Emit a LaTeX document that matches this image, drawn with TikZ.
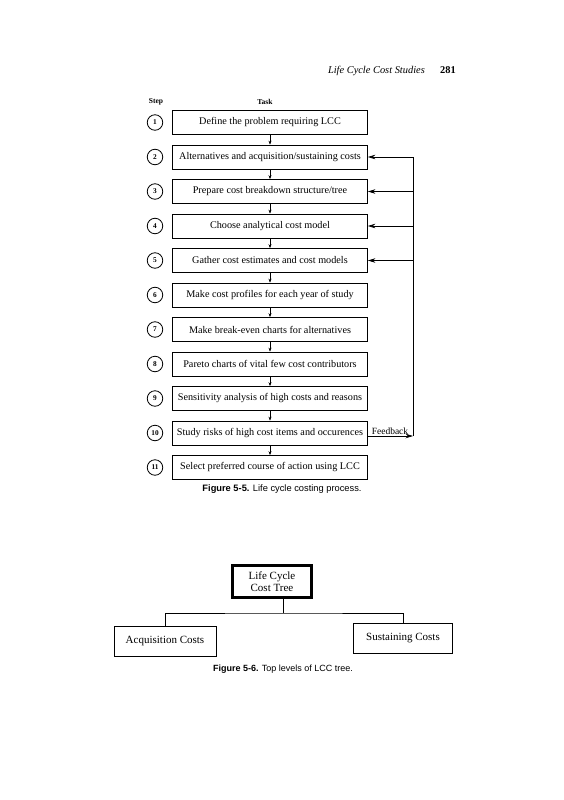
\documentclass[tikz,border=0pt]{standalone}
\usepackage{fontspec}
\setmainfont{Liberation Serif}
\setsansfont{Liberation Sans}
\usetikzlibrary{arrows.meta}
\begin{document}
\begin{tikzpicture}[x=1pt,y=-1pt,
  task/.style={draw,line width=0.7pt,minimum width=195pt,minimum height=24pt,inner sep=0pt,font=\fontsize{10.2}{12}\selectfont},
  stepnum/.style={draw,circle,line width=0.8pt,minimum size=15.5pt,inner sep=0pt,font=\bfseries\fontsize{7.3}{8}\selectfont},
  flow/.style={line width=0.5pt,-{Stealth[length=4pt,width=3pt]}},
  fb/.style={line width=0.7pt,-{Stealth[length=7.5pt,width=4.5pt]}},
  treebox/.style={draw,line width=0.7pt,inner sep=0pt,font=\fontsize{11}{13}\selectfont,align=center},
  figcap/.style={font=\sffamily\fontsize{9}{10}\selectfont}
]
\useasboundingbox (0,0) rectangle (564,800);
\fill[white] (0,0) rectangle (564,800);

\node[anchor=base east,font=\itshape\fontsize{10.4}{12}\selectfont,inner sep=0pt] (hdr) at (425,74) {Life Cycle Cost Studies};
\node[anchor=base west,font=\bfseries\fontsize{10.4}{12}\selectfont,inner sep=0pt] (pg) at (440,74) {281};

\node[font=\bfseries\fontsize{7.5}{8}\selectfont] (steph) at (156,102) {Step};
\node[font=\bfseries\fontsize{7.5}{8}\selectfont] (taskh) at (265,102) {Task};

\foreach \i/\t [evaluate=\i as \yy using {122.5+34.5*(\i-1)}] in {
 1/{Define the problem requiring LCC},
 2/{Alternatives and acquisition/sustaining costs},
 3/{Prepare cost breakdown structure/tree},
 4/{Choose analytical cost model},
 5/{Gather cost estimates and cost models},
 6/{Make cost profiles for each year of study},
 7/{Make break-even charts for alternatives},
 8/{Pareto charts of vital few cost contributors},
 9/{Sensitivity analysis of high costs and reasons},
 10/{Study risks of high cost items and occurences},
 11/{Select preferred course of action using LCC}}{
  \node[task] (t\i) at (270,\yy) {\t};
  \node[stepnum] (s\i) at (155,\yy) {\i};
}
\foreach \i [evaluate=\i as \j using int(\i+1)] in {1,...,10}{
  \draw[flow] (t\i.south) -- (t\j.north);
}
\coordinate (fs) at ([yshift=-3pt]t10.east);
\coordinate (fc) at (413,0 |- fs);
\coordinate (ft) at (413,0 |- t2.east);
\draw[fb] (fs) -- (fc);
\draw[line width=0.6pt] (fc) -- (ft);
\foreach \i in {2,3,4,5}{
  \draw[fb] (ft |- t\i.east) -- (t\i.east);
}
\node[anchor=south,font=\fontsize{9.5}{10}\selectfont,inner sep=1.5pt] (fbl) at (390,0 |- fs) {Feedback};

\node[figcap,font=\sffamily\fontsize{9.3}{10}\selectfont] (cap1) at (282,489) {\textbf{Figure 5-5.} Life cycle costing process.};

% Figure 5-6
\node[draw,line width=2.2pt,minimum width=79pt,minimum height=32pt,inner sep=0pt,align=center,font=\fontsize{11}{12.5}\selectfont] (root) at (272,581.5) {Life Cycle\\Cost Tree};
\node[treebox,minimum width=102pt,minimum height=30pt] (acq) at (165,641.5) {Acquisition Costs};
\node[treebox,minimum width=99pt,minimum height=30pt] (sus) at (403,638.5) {Sustaining Costs};
\coordinate (jn) at (283,613);
\draw[line width=0.5pt] (jn |- root.south) -- (jn);
\draw[line width=0.5pt] (acq.north) |- (jn) -| (sus.north);

\node[figcap] (cap2) at (283,669) {\textbf{Figure 5-6.} Top levels of LCC tree.};
\end{tikzpicture}
\end{document}
